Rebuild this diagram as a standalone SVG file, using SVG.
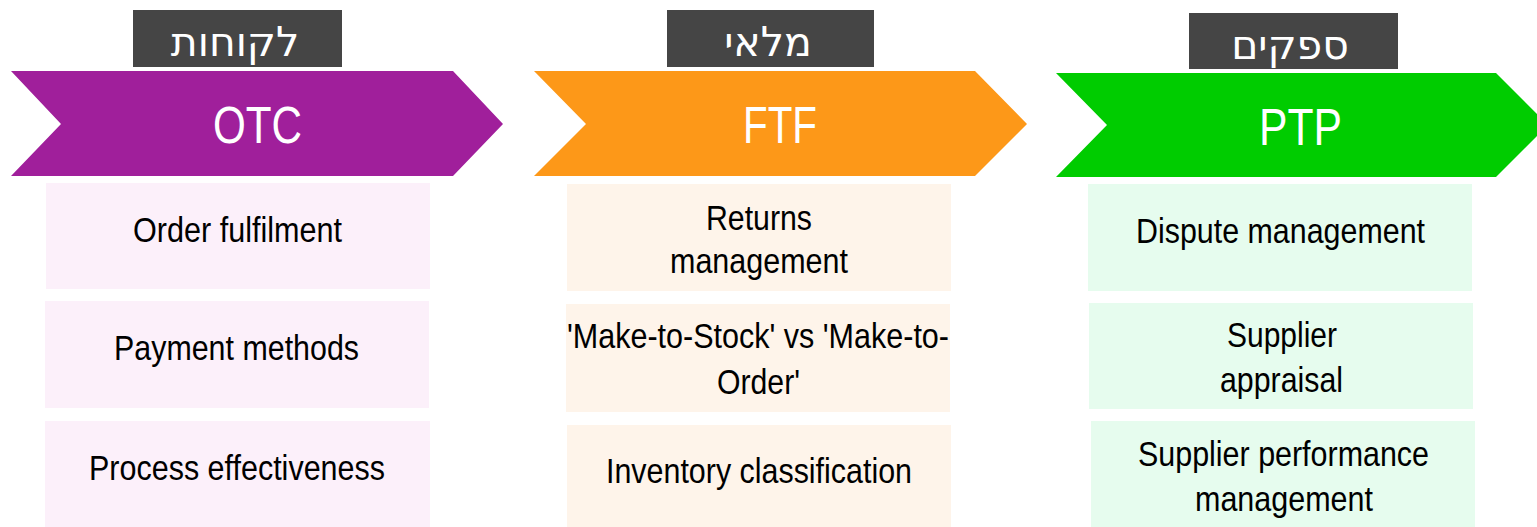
<svg xmlns="http://www.w3.org/2000/svg" width="1537" height="527" viewBox="0 0 1537 527">
<style>
.lbl{fill:#454545}
.heb{font-family:"Noto Sans","DejaVu Sans",sans-serif;font-size:41px;fill:#ffffff;text-anchor:middle}
.chev{font-family:"Liberation Sans",Arial,sans-serif;font-size:51px;fill:#ffffff;text-anchor:middle}
.item{font-family:"Liberation Sans",Arial,sans-serif;font-size:35px;fill:#000000;text-anchor:middle}
.p1{fill:#FCF0FA}.p2{fill:#FEF4EA}.p3{fill:#E6FCEE}
</style>
<rect width="1537" height="527" fill="#ffffff"/>
<g id="otc">
<rect class="lbl" x="133" y="10" width="209" height="57"/>
<text class="heb" x="235" y="56">לקוחות</text>
<polygon points="11,71 453,71 503,124 453,176 11,176 61,124" fill="#A01F9B"/>
<text class="chev" x="257.5" y="143" textLength="89" lengthAdjust="spacingAndGlyphs">OTC</text>
</g>
<g id="ftf">
<rect class="lbl" x="667" y="10" width="207" height="57"/>
<text class="heb" x="768" y="56">מלאי</text>
<polygon points="534,71 975,71 1027,124 975,176 534,176 586,124" fill="#FD9818"/>
<text class="chev" x="780" y="143" textLength="74" lengthAdjust="spacingAndGlyphs">FTF</text>
</g>
<g id="ptp">
<rect class="lbl" x="1189" y="13" width="209" height="56"/>
<text class="heb" x="1290" y="59">ספקים</text>
<polygon points="1056,73 1496,73 1548,125 1496,177 1056,177 1107,125" fill="#00CC00"/>
<text class="chev" x="1300.5" y="145" textLength="83" lengthAdjust="spacingAndGlyphs">PTP</text>
</g>
<g id="otc-items">
<g id="otc-1"><rect class="p1" x="46" y="183" width="384" height="106"/>
<text class="item" x="237.5" y="242" textLength="209" lengthAdjust="spacingAndGlyphs">Order fulfilment</text></g>
<g id="otc-2"><rect class="p1" x="45" y="301" width="384" height="107"/>
<text class="item" x="236.5" y="360" textLength="245" lengthAdjust="spacingAndGlyphs">Payment methods</text></g>
<g id="otc-3"><rect class="p1" x="45" y="421" width="385" height="106"/>
<text class="item" x="237" y="480" textLength="296" lengthAdjust="spacingAndGlyphs">Process effectiveness</text></g>
</g>
<g id="ftf-items">
<g id="ftf-1"><rect class="p2" x="567" y="184" width="384" height="107"/>
<text class="item" x="759" y="230" textLength="106" lengthAdjust="spacingAndGlyphs">Returns</text>
<text class="item" x="759" y="273" textLength="178" lengthAdjust="spacingAndGlyphs">management</text></g>
<g id="ftf-2"><rect class="p2" x="566" y="304" width="384" height="108"/>
<text class="item" x="758" y="348" textLength="382" lengthAdjust="spacingAndGlyphs">'Make-to-Stock' vs 'Make-to-</text>
<text class="item" x="758.5" y="394" textLength="83" lengthAdjust="spacingAndGlyphs">Order'</text></g>
<g id="ftf-3"><rect class="p2" x="567" y="425" width="384" height="102"/>
<text class="item" x="759" y="483" textLength="306" lengthAdjust="spacingAndGlyphs">Inventory classification</text></g>
</g>
<g id="ptp-items">
<g id="ptp-1"><rect class="p3" x="1088" y="184" width="384" height="107"/>
<text class="item" x="1280.5" y="243" textLength="289" lengthAdjust="spacingAndGlyphs">Dispute management</text></g>
<g id="ptp-2"><rect class="p3" x="1089" y="303" width="384" height="106"/>
<text class="item" x="1282" y="347" textLength="110" lengthAdjust="spacingAndGlyphs">Supplier</text>
<text class="item" x="1281.5" y="392" textLength="123" lengthAdjust="spacingAndGlyphs">appraisal</text></g>
<g id="ptp-3"><rect class="p3" x="1091" y="421" width="384" height="106"/>
<text class="item" x="1283.5" y="466" textLength="291" lengthAdjust="spacingAndGlyphs">Supplier performance</text>
<text class="item" x="1284" y="511" textLength="178" lengthAdjust="spacingAndGlyphs">management</text></g>
</g>
<g id="connectors"></g>
</svg>
